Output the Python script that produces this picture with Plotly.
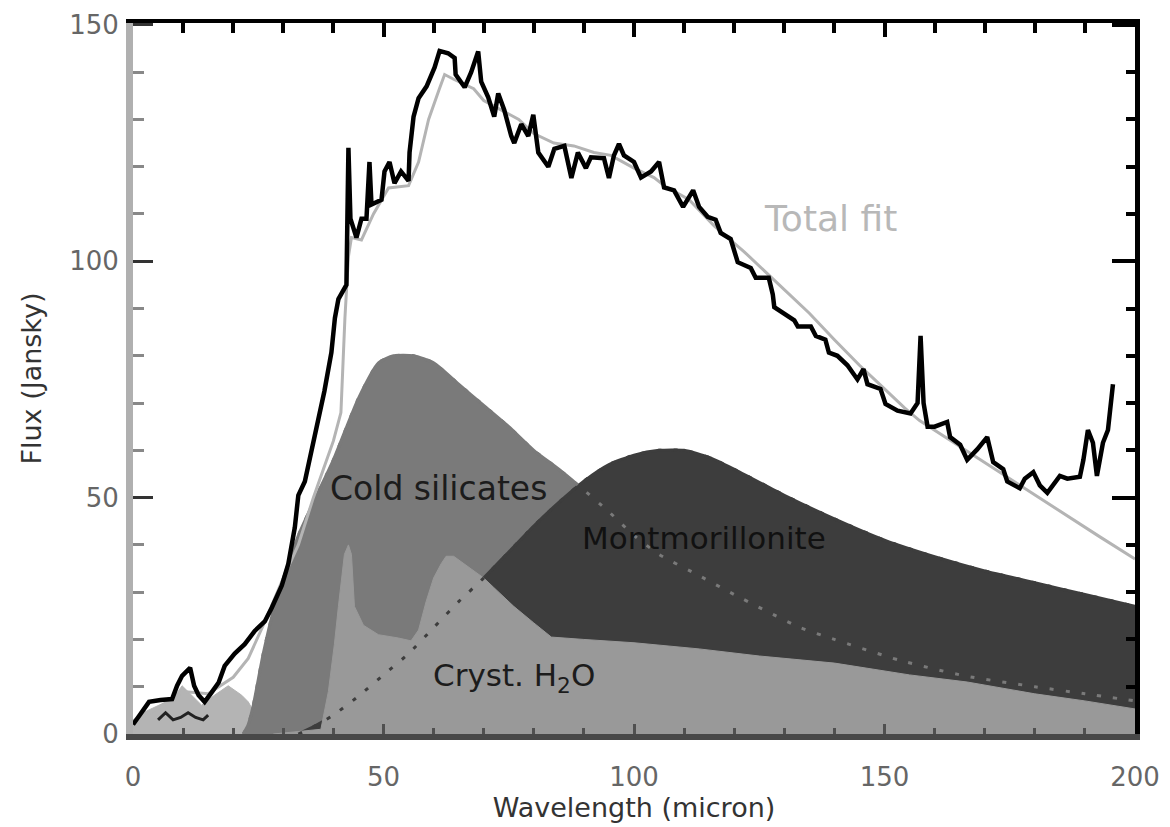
import plotly.graph_objects as go

# ---------------- data ----------------
# observed spectrum (black)
wl_obs = [0, 1.8, 3.2, 5.5, 7.8, 8.8, 9.8, 11.4, 12.2, 13.1, 14.3, 15.7, 17.1, 18.3, 20.3, 22.3,
          24.3, 26.3, 27.7, 29.7, 31, 32.3, 33, 34.3, 35.7, 37, 38.2, 39.6, 40.3, 41, 42, 42.6,
          43, 43.4, 44.6, 45.6, 46.6, 47.2, 47.6, 49.6, 50.2, 51.2, 52.2, 53.5, 55, 55.2, 56, 57,
          58.6, 60.2, 61.2, 62.9, 64.2, 64.4, 66.2, 67.5, 68.9, 69.5, 70.9, 72.1, 72.9, 74.1,
          75.5, 76.1, 77.5, 78.9, 79.9, 80.9, 82.9, 84.1, 86.1, 87.5, 88.8, 90.4, 91.4, 94, 95,
          96, 97, 98, 100, 101.4, 103.4, 105, 106, 108, 109.8, 111.8, 113, 114.7, 116.3, 117.3,
          119.3, 120.7, 123.3, 124.3, 126.9, 127.7, 128, 130, 132, 132.7, 135.3, 136.3, 138.2,
          138.9, 140.6, 142.6, 144.6, 145.8, 146.6, 149.2, 150.2, 152.6, 155.2, 156.6, 157.2,
          157.8, 158.6, 160, 162.5, 163.1, 165.1, 166.5, 168.5, 170.5, 171.7, 173.7, 174.5, 177,
          178, 179.7, 181, 182.5, 185, 186.5, 189, 189.7, 190.6, 191.6, 192.4, 193.6, 194.6, 195.6]
flux_obs = [2, 4.7, 6.8, 7.2, 7.4, 10.2, 12.3, 14, 10.2, 8.2, 6.8, 8.8, 10.9, 14.4, 17, 19,
            21.8, 23.8, 26.7, 31.4, 36, 43.7, 50.5, 53.4, 60.2, 65.7, 72.5, 80.7, 88, 92, 94, 95,
            124, 109, 105, 109, 109, 121, 112, 113, 119, 121, 116.5, 119, 117, 123, 130.6, 134.5,
            137, 141, 144.5, 144, 143, 139.5, 136.8, 140, 144.4, 138, 134.7, 130.6, 135.5, 132,
            126.5, 125, 129, 126.5, 131, 123, 120, 123.8, 124.4, 117.6, 123, 119.7, 122, 121.8, 117.6,
            122.4, 124.8, 122.4, 121, 117.7, 119, 121, 115.6, 115, 111.5, 115, 111.5, 109.4, 108.8, 106,
            104.7, 99.8, 98.6, 96.5, 96.5, 93, 90.3, 89, 87.5, 86.2, 86.2, 84.2, 83.4,
            80.7, 80, 78, 75, 77.2, 74, 73, 69.8, 68.4, 67.8, 70, 84.2,
            70, 65, 65, 66, 62.8, 61.2, 58, 60.2, 62.8, 57.5, 56, 53.4, 52,
            54, 55.4, 52.6, 51, 54.6, 54, 54.4, 58, 64.3, 61.6, 54.6, 61.6, 64.3, 74]

# small dark residual trace near the origin
wl_resid = [5, 6.5, 8, 9.5, 11, 12.5, 14, 15]
flux_resid = [3, 4.5, 3, 3.5, 4.5, 3.5, 3, 4]

# total fit (light grey)
wl_fit = [0, 5, 10, 15, 20, 23, 26, 28, 30, 33, 36, 38, 40, 41.5, 42.3, 43, 43.6, 45.6, 48, 51,
          55, 57, 59, 61, 62.2, 64, 68, 70, 73.5, 77, 80, 84, 88, 92, 95.4, 100, 104, 106, 111,
          116, 122, 129, 135, 140, 145, 149, 154, 157, 164, 172, 180, 186, 193, 200]
flux_fit = [2.5, 5.5, 9, 8.5, 12, 16, 23, 28, 33, 40, 50, 56, 62, 68, 88, 101, 105, 104.5, 110,
            115.5, 116, 121, 130, 136, 139.5, 138.5, 136.5, 134, 132, 130, 127, 125, 124.4, 123,
            122.4, 119.7, 117.7, 116, 113, 107.5, 102, 95, 89, 83.4, 78, 74, 69, 66.3, 61.5, 56,
            50.5, 46.4, 41.7, 37]

# short-wavelength light component
wl_short = [0, 2.4, 5, 8, 9.8, 12, 13.7, 16, 19, 21.7, 23, 24.5, 26, 27.5]
flux_short = [3, 4.7, 6, 7.5, 10.2, 8, 6.1, 8, 10.2, 8.2, 6.8, 4, 1.5, 0]

# cold silicates
wl_cold = [22, 23, 24, 26, 28, 31, 33, 36, 40, 45, 49, 52, 56, 60, 65, 70, 75, 80, 85, 89, 95,
           100, 105, 113, 120, 133, 140, 153, 166, 180, 190, 200]
flux_cold = [0, 2, 6, 17, 26, 36, 42, 49, 58, 71, 78.5, 80, 80, 78.5, 74, 69.5, 65, 60, 56, 52.5,
             47, 42, 38, 33.5, 29.5, 22.6, 20, 15.6, 12.3, 10, 8.5, 7]

# montmorillonite
wl_mont = [33, 36, 40, 45, 50, 55, 60, 65, 70, 75, 80, 85, 90, 95, 100, 105, 110, 115, 120, 130,
           140, 150, 160, 170, 180, 190, 200]
flux_mont = [0, 1.5, 4, 8, 12.5, 17, 22.5, 28, 33, 38.5, 44, 49, 53.5, 57, 59, 60, 60, 58.5, 56,
             50.5, 45.5, 41, 37.5, 34.5, 32, 29.5, 27]

# crystalline H2O
wl_h2o = [28, 37, 37.5, 39, 40.2, 41, 42.2, 43, 43.6, 44.2, 46, 49, 53, 55.5, 57, 58.5, 60, 61.5,
          62.5, 64, 66, 68, 70, 72, 76, 80, 83.5, 90, 100, 113, 125, 140, 155, 166.5, 180, 190, 200]
flux_h2o = [0, 0.8, 1, 9, 19, 27, 38, 40, 38, 27, 23, 21, 20.3, 19.7, 22, 28, 33, 36, 37.6, 37.6,
            36, 34.5, 33, 31, 27, 23.5, 20.5, 20, 19.3, 18, 16.5, 15, 12.5, 11, 8.5, 7, 5.3]

x_range = [0, 200]
y_range = [0, 150.4]

C_SHORT = "#b4b4b4"
C_COLD = "#7a7a7a"
C_MONT = "#3d3d3d"
C_H2O = "#999999"
C_FIT = "#b4b4b4"
FONT = "DejaVu Sans"

fig = go.Figure()

fig.add_trace(go.Scatter(x=wl_short, y=flux_short, mode="lines", fill="tozeroy",
                         fillcolor=C_SHORT, line=dict(color=C_SHORT, width=1),
                         showlegend=False, hoverinfo="skip"))
fig.add_trace(go.Scatter(x=wl_cold, y=flux_cold, mode="lines", fill="tozeroy",
                         fillcolor=C_COLD,
                         line=dict(color=C_COLD, width=3, shape="spline", smoothing=0.6),
                         name="Cold silicates", showlegend=False))
fig.add_trace(go.Scatter(x=wl_mont, y=flux_mont, mode="lines", fill="tozeroy",
                         fillcolor=C_MONT,
                         line=dict(color=C_MONT, width=3, shape="spline", smoothing=0.6),
                         name="Montmorillonite", showlegend=False))
fig.add_trace(go.Scatter(x=wl_h2o, y=flux_h2o, mode="lines", fill="tozeroy",
                         fillcolor=C_H2O, line=dict(color=C_H2O, width=1),
                         name="Cryst. H2O", showlegend=False))
# dotted outlines of the components, visible where hidden
fig.add_trace(go.Scatter(x=wl_cold, y=flux_cold, mode="lines",
                         line=dict(color=C_COLD, width=3, dash="4px,12px",
                                   shape="spline", smoothing=0.6),
                         showlegend=False, hoverinfo="skip"))
fig.add_trace(go.Scatter(x=wl_mont, y=flux_mont, mode="lines",
                         line=dict(color=C_MONT, width=3, dash="4px,12px",
                                   shape="spline", smoothing=0.6),
                         showlegend=False, hoverinfo="skip"))
# total fit
fig.add_trace(go.Scatter(x=wl_fit, y=flux_fit, mode="lines",
                         line=dict(color=C_FIT, width=3), name="Total fit", showlegend=False))
# residual squiggle
fig.add_trace(go.Scatter(x=wl_resid, y=flux_resid, mode="lines",
                         line=dict(color="#222222", width=3), showlegend=False, hoverinfo="skip"))
# observed spectrum
fig.add_trace(go.Scatter(x=wl_obs, y=flux_obs, mode="lines",
                         line=dict(color="black", width=4.5), name="Observed", showlegend=False))
# helper trace for top/right frame axes
fig.add_trace(go.Scatter(x=wl_fit, y=flux_fit, mode="lines", xaxis="x2", yaxis="y2",
                         line=dict(width=0), opacity=0, showlegend=False, hoverinfo="skip"))

tick_font = dict(family=FONT, size=26, color="#666666")
title_font = dict(family=FONT, size=27, color="#333333")

fig.update_layout(
    width=1170, height=827,
    margin=dict(l=133, r=35, t=10, b=84),
    paper_bgcolor="white", plot_bgcolor="white",
    xaxis=dict(range=x_range, showgrid=False, zeroline=False,
               showline=True, linecolor="#484848", linewidth=6,
               ticks="inside", ticklen=10, tickwidth=3, tickcolor="#505050",
               tick0=0, dtick=50, tickfont=tick_font, ticklabelstandoff=15,
               ticklabeloverflow="allow",
               minor=dict(ticks="inside", ticklen=6, tickwidth=3, tickcolor="#505050", dtick=10),
               title=dict(text="Wavelength (micron)", font=title_font, standoff=6)),
    yaxis=dict(range=y_range, showgrid=False, zeroline=False,
               showline=True, linecolor="#b0b0b0", linewidth=7,
               ticks="inside", ticklen=20, tickwidth=3, tickcolor="#333333",
               tick0=0, dtick=50, tickfont=tick_font, ticklabelstandoff=2,
               ticklabeloverflow="allow",
               minor=dict(ticks="inside", ticklen=11, tickwidth=3, tickcolor="#888888", dtick=10),
               title=dict(text="Flux (Jansky)", font=title_font, standoff=22)),
    xaxis2=dict(range=x_range, overlaying="x", side="top", anchor="y",
                showgrid=False, zeroline=False, showticklabels=False,
                showline=True, linecolor="black", linewidth=4,
                ticks="inside", ticklen=14, tickwidth=4, tickcolor="black", tick0=0, dtick=50,
                minor=dict(ticks="inside", ticklen=10, tickwidth=4, tickcolor="black", dtick=10)),
    yaxis2=dict(range=y_range, overlaying="y", side="right", anchor="x",
                showgrid=False, zeroline=False, showticklabels=False,
                showline=True, linecolor="black", linewidth=5,
                ticks="inside", ticklen=23, tickwidth=4, tickcolor="black", tick0=0, dtick=50,
                minor=dict(ticks="inside", ticklen=9, tickwidth=4, tickcolor="black", dtick=10)),
    annotations=[
        dict(x=139.2, y=109, xref="x", yref="y", text="Total fit", showarrow=False,
             font=dict(family=FONT, size=36, color="#b8b8b8")),
        dict(x=61, y=52, xref="x", yref="y", text="Cold silicates", showarrow=False,
             font=dict(family=FONT, size=33, color="#1c1c1c")),
        dict(x=114, y=41.5, xref="x", yref="y", text="Montmorillonite", showarrow=False,
             font=dict(family=FONT, size=31, color="#111111")),
        dict(x=76, y=12, xref="x", yref="y", text="Cryst. H<sub>2</sub>O", showarrow=False,
             font=dict(family=FONT, size=31, color="#1c1c1c")),
    ],
)

fig.write_html("out.html")
